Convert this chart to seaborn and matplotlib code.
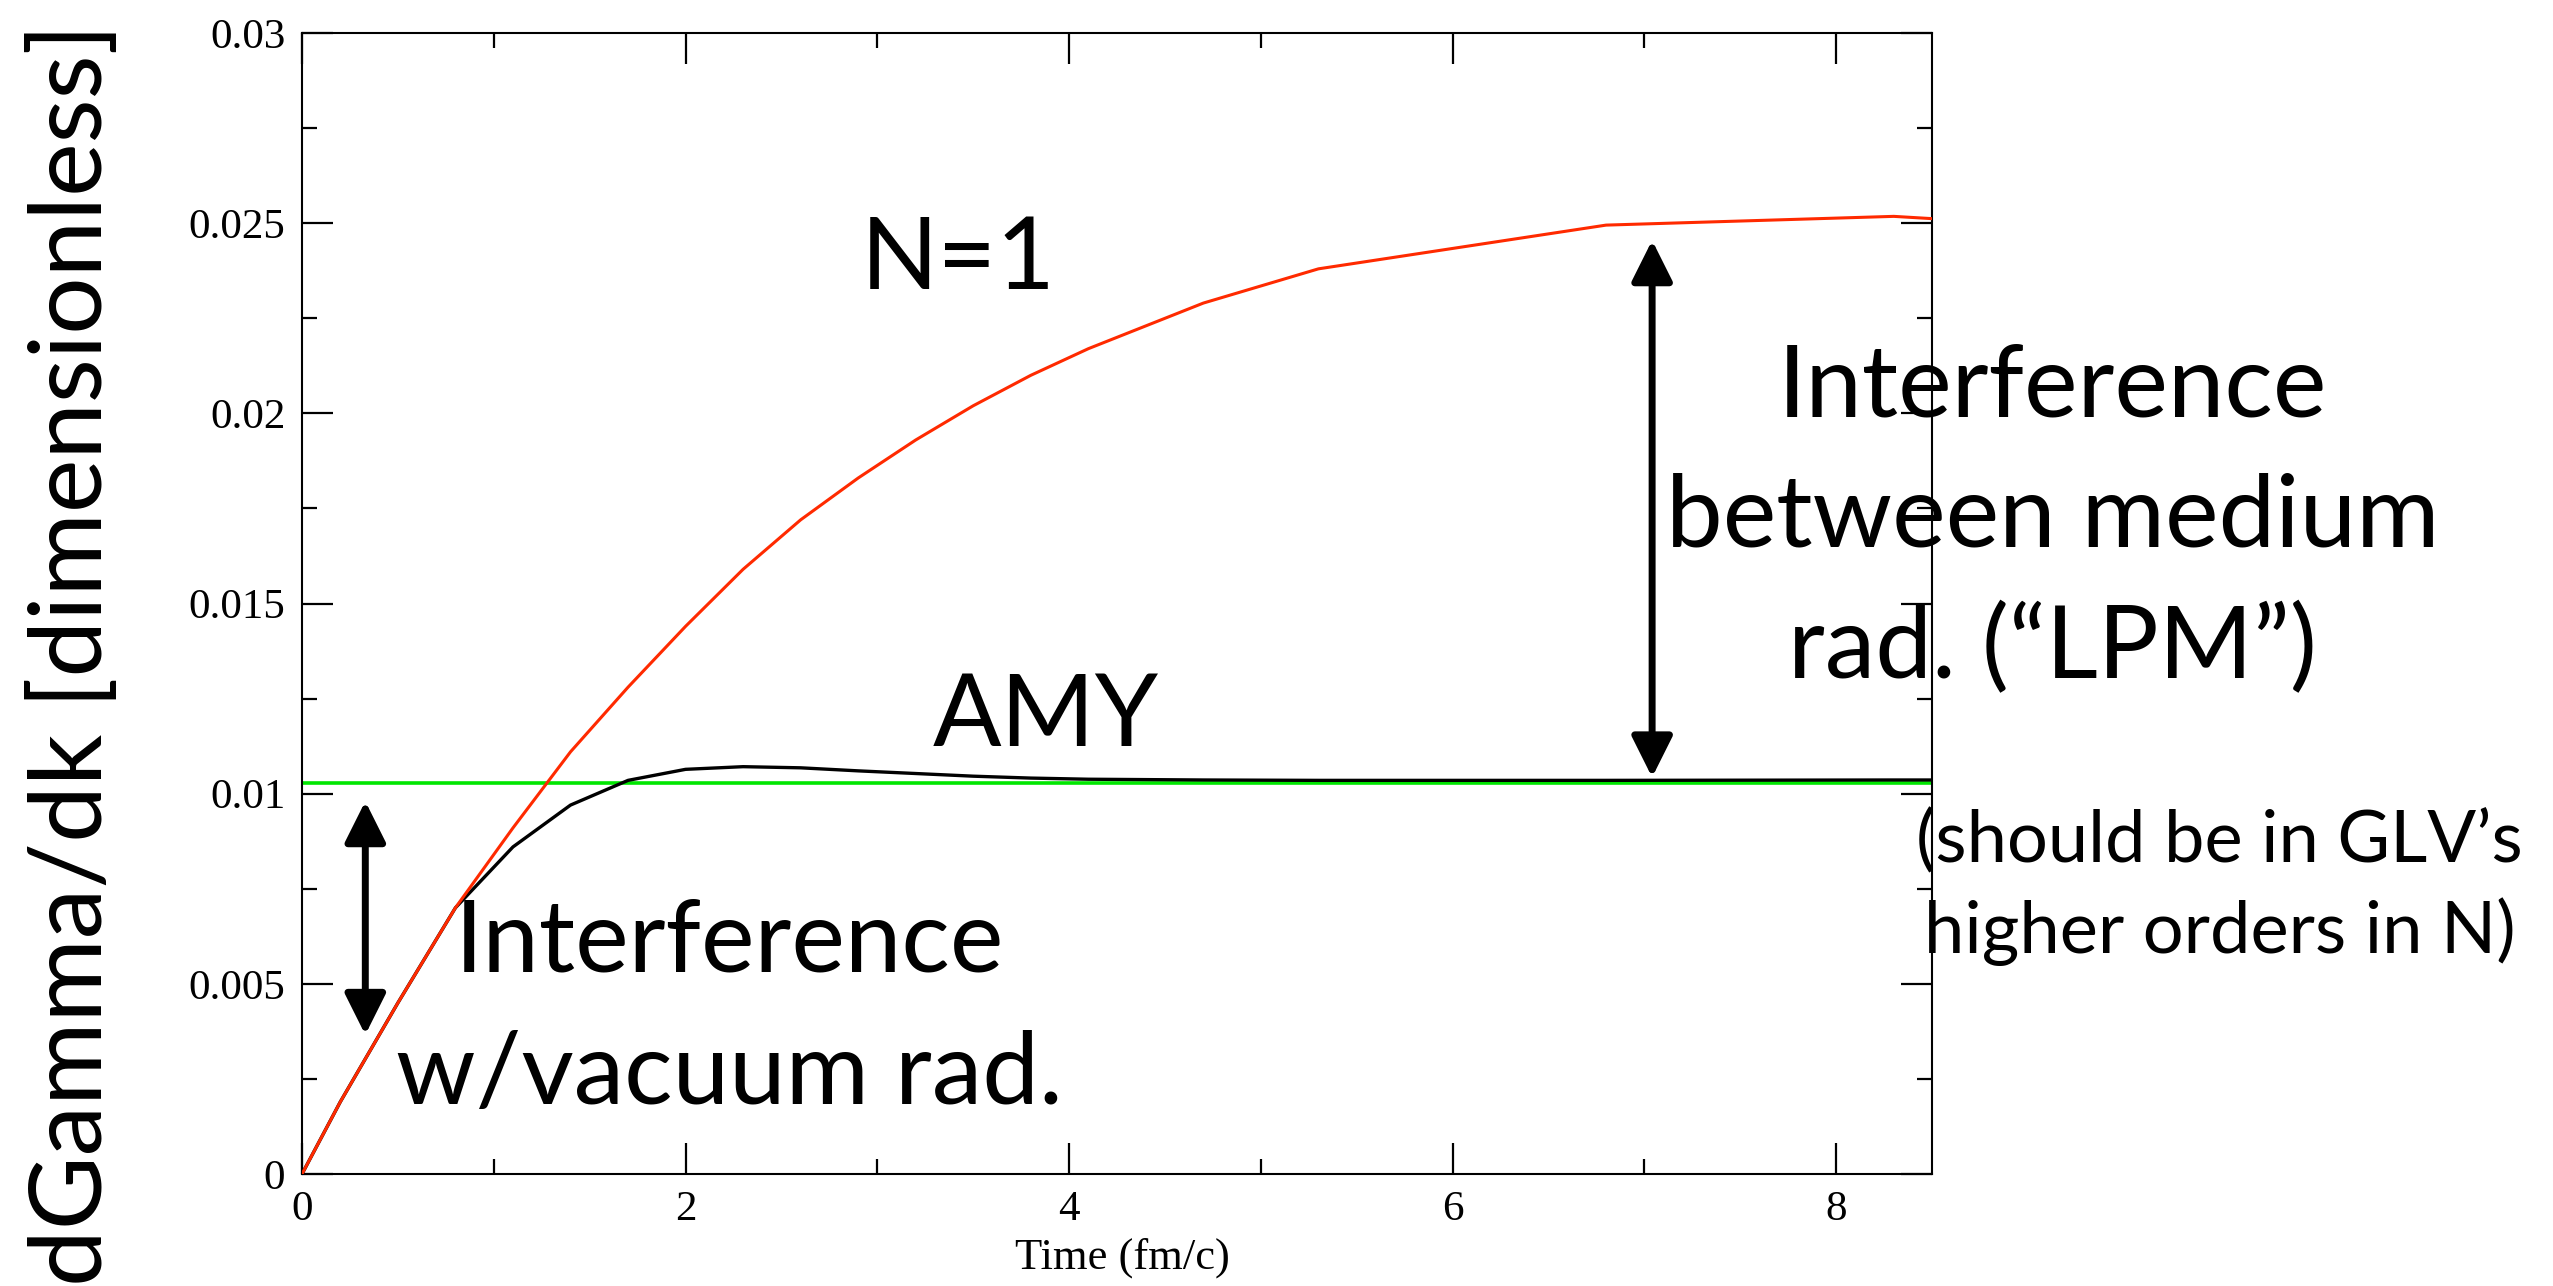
import matplotlib
matplotlib.use("Agg")
import matplotlib.pyplot as plt
from matplotlib.ticker import MultipleLocator
import seaborn as sns

# values
time_fm = [0, 0.2, 0.5, 0.8, 1.1, 1.4, 1.7, 2.0, 2.3, 2.6, 2.9, 3.2, 3.5, 3.8,
           4.1, 4.7, 5.3, 6.8, 8.3, 8.5]
rate_n1 = [0, 0.0019, 0.0045, 0.0070, 0.0091, 0.0111, 0.0128, 0.0144, 0.0159,
           0.0172, 0.0183, 0.0193, 0.0202, 0.0210, 0.0217, 0.0229, 0.0238,
           0.02495, 0.02518, 0.02512]
rate_amy = [0, 0.0019, 0.0045, 0.0070, 0.0086, 0.0097, 0.01035, 0.01064,
            0.01071, 0.01068, 0.0106, 0.01053, 0.01046, 0.01041, 0.01038,
            0.01036, 0.01035, 0.01035, 0.01036, 0.01036]
amy_limit = 0.01028

x_ticks = [0, 2, 4, 6, 8]
x_tick_labels = ["0", "2", "4", "6", "8"]
y_ticks = [0, 0.005, 0.01, 0.015, 0.02, 0.025, 0.03]
y_tick_labels = ["0", "0.005", "0.01", "0.015", "0.02", "0.025", "0.03"]

sans = ["Lato", "DejaVu Sans"]

sns.set_theme(style="ticks")
plt.rcParams["font.family"] = ["Liberation Serif", "DejaVu Serif"]
plt.rcParams["text.color"] = "black"

fig = plt.figure(figsize=(25.53, 12.86), dpi=100)
ax = fig.add_axes([0.1183, 0.0871, 0.6385, 0.8872])

ax.axhline(amy_limit, color="#00e600", lw=2.6, zorder=1)
sns.lineplot(x=time_fm, y=rate_n1, ax=ax, color="#ff2a00", lw=2.2, estimator=None, zorder=3)
sns.lineplot(x=time_fm, y=rate_amy, ax=ax, color="black", lw=2.4, estimator=None, zorder=2)

ax.set_xlim(0, 8.5)
ax.set_ylim(0, 0.03)
ax.set_xticks(x_ticks)
ax.set_xticklabels(x_tick_labels)
ax.set_yticks(y_ticks)
ax.set_yticklabels(y_tick_labels)
ax.xaxis.set_minor_locator(MultipleLocator(1))
ax.yaxis.set_minor_locator(MultipleLocator(0.0025))
ax.tick_params(which="both", direction="in", top=True, right=True, width=1.6,
               color="black", labelcolor="black", labelsize=31, pad=12)
ax.tick_params(which="major", length=22)
ax.tick_params(which="minor", length=11)
for sp in ax.spines.values():
    sp.set_color("black")
    sp.set_linewidth(1.5)

ax.set_xlabel("Time (fm/c)", fontsize=32, color="black")
ax.xaxis.set_label_coords(0.503, -0.056)
ax.set_ylabel("dGamma/dk [dimensionless]", family=sans, fontsize=73, color="black")
ax.yaxis.set_label_coords(-0.112, 0.455)

# annotations
big = 73
ax.text(3.42, 0.02328, "N=1", family=sans, fontsize=big, ha="center", va="baseline")
ax.text(3.88, 0.01125, "AMY", family=sans, fontsize=big, ha="center", va="baseline")

right_lines = ["Interference", "between medium", "rad. (\u201cLPM\u201d)"]
right_base = [0.01991, 0.01651, 0.01304]
for line, yb in zip(right_lines, right_base):
    ax.text(9.13, yb, line, family=sans, fontsize=big, ha="center", va="baseline")

note_lines = ["(should be in GLV\u2019s", "higher orders in N)"]
note_base = [0.00819, 0.00582]
for line, yb in zip(note_lines, note_base):
    ax.text(10.0, yb, line, family=sans, fontsize=52, ha="center", va="baseline")

left_lines = ["Interference", "w/vacuum rad."]
left_base = [0.00532, 0.00184]
for line, yb in zip(left_lines, left_base):
    ax.text(2.23, yb, line, family=sans, fontsize=big, ha="center", va="baseline")

arrow = dict(arrowstyle="<|-|>,head_length=1.0,head_width=0.5", color="black",
             lw=5, mutation_scale=25, shrinkA=0, shrinkB=0)
ax.annotate("", xy=(7.04, 0.02455), xytext=(7.04, 0.01043), arrowprops=arrow)
ax.annotate("", xy=(0.33, 0.0098), xytext=(0.33, 0.00366), arrowprops=arrow)

fig.savefig("out.png", dpi=100)
